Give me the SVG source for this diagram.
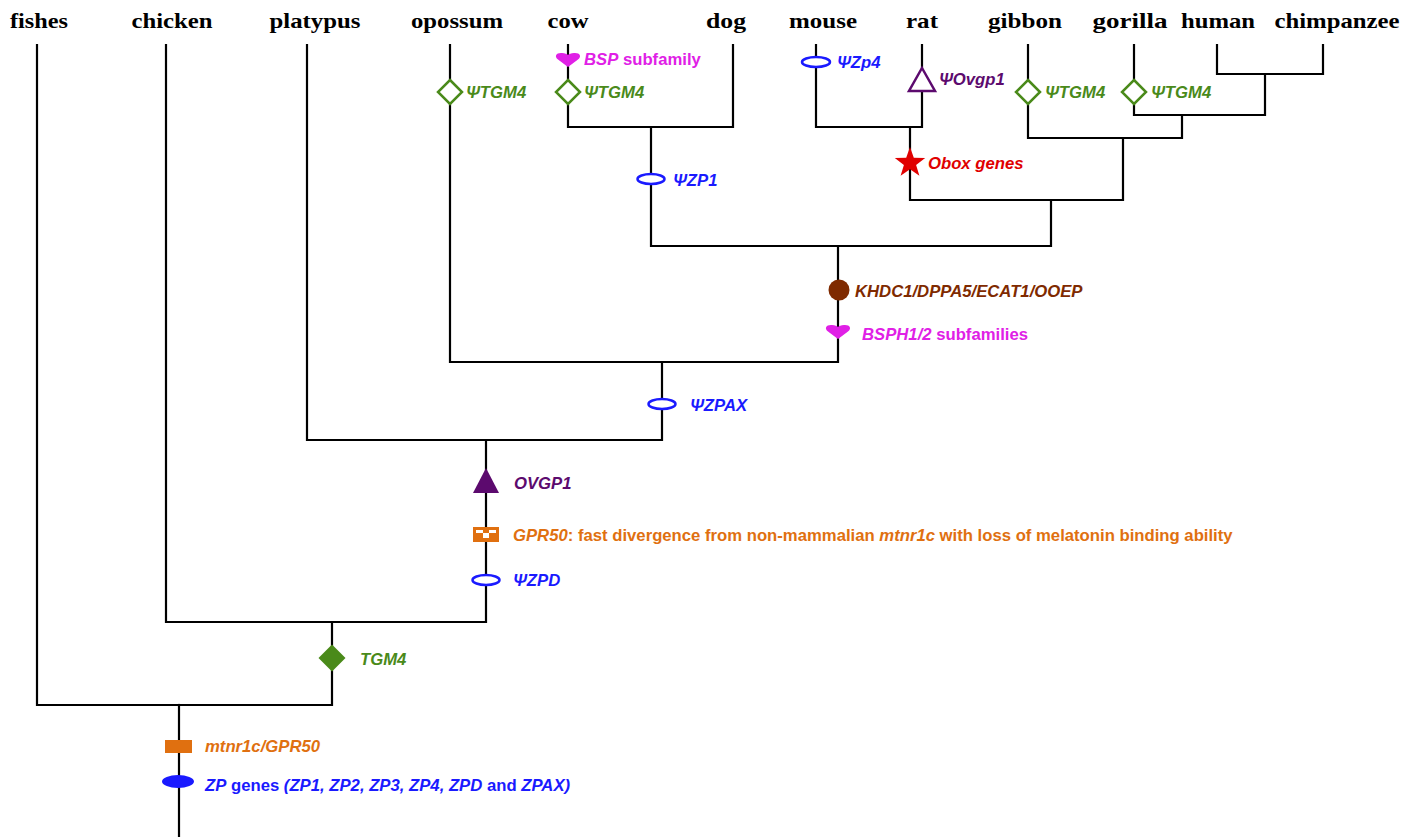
<svg xmlns="http://www.w3.org/2000/svg" width="1418" height="837" viewBox="0 0 1418 837">
<defs>
<style>
.tx{font-family:"Liberation Serif","Times New Roman",serif;font-weight:bold;font-size:21px;fill:#000;text-anchor:middle}
.lb{font-family:"Liberation Sans",Arial,sans-serif;font-weight:bold;font-size:16.7px}
.it{font-style:italic}
.br{fill:none;stroke:#000;stroke-width:2.2;stroke-linecap:square}
.blue{fill:#1a1aff}.green{fill:#4a8a1a}.mag{fill:#e020e6}.pur{fill:#5c0a6e}.brown{fill:#7f2a00}.orange{fill:#e07010}.red{fill:#e00000}
.hb{fill:#fff;stroke:#1a1aff;stroke-width:2.5}
.hg{fill:#fff;stroke:#4a8a1a;stroke-width:2.5}
.hp{fill:#fff;stroke:#5c0a6e;stroke-width:2.5}
</style>
<path id="heart" d="M0,14 L-10,6.5 C-14,3.5 -12,-0.5 -6,0 C-3,0.3 -1,1 0,2 C1,1 3,0.3 6,0 C12,-0.5 14,3.5 10,6.5 Z"/>
<path id="dia" d="M0,-12 L12,0 L0,12 L-12,0 Z"/>
</defs>
<rect width="1418" height="837" fill="#fff"/>
<g id="taxa">
<text class="tx" x="39" y="28" textLength="58" lengthAdjust="spacingAndGlyphs">fishes</text>
<text class="tx" x="172" y="28" textLength="81" lengthAdjust="spacingAndGlyphs">chicken</text>
<text class="tx" x="315" y="28" textLength="91" lengthAdjust="spacingAndGlyphs">platypus</text>
<text class="tx" x="457" y="28" textLength="92" lengthAdjust="spacingAndGlyphs">opossum</text>
<text class="tx" x="568" y="28" textLength="41" lengthAdjust="spacingAndGlyphs">cow</text>
<text class="tx" x="726" y="28" textLength="40" lengthAdjust="spacingAndGlyphs">dog</text>
<text class="tx" x="823" y="28" textLength="68" lengthAdjust="spacingAndGlyphs">mouse</text>
<text class="tx" x="922" y="28" textLength="32" lengthAdjust="spacingAndGlyphs">rat</text>
<text class="tx" x="1025" y="28" textLength="74" lengthAdjust="spacingAndGlyphs">gibbon</text>
<text class="tx" x="1130" y="28" textLength="75" lengthAdjust="spacingAndGlyphs">gorilla</text>
<text class="tx" x="1218" y="28" textLength="74" lengthAdjust="spacingAndGlyphs">human</text>
<text class="tx" x="1337" y="28" textLength="125" lengthAdjust="spacingAndGlyphs">chimpanzee</text>
</g>
<g id="connectors">
<path class="br" d="M37,45 V705 H332 V622"/>
<path class="br" d="M179,705 V837"/>
<path class="br" d="M166,45 V622 H486 V440"/>
<path class="br" d="M307,45 V440 H662 V362"/>
<path class="br" d="M450,45 V362 H838 V246"/>
<path class="br" d="M568,45 V127 H733 V45"/>
<path class="br" d="M651,127 V246 H1051 V200"/>
<path class="br" d="M816,45 V127 H922 V45"/>
<path class="br" d="M910,127 V200 H1123 V138"/>
<path class="br" d="M1028,45 V138 H1182 V115"/>
<path class="br" d="M1134,45 V115 H1265 V74"/>
<path class="br" d="M1217,45 V74 H1323 V45"/>
</g>
<g id="m-bsp"><use href="#heart" x="568" y="53" class="mag"/><text class="lb mag" x="584" y="65"><tspan class="it">BSP</tspan> subfamily</text></g>
<g id="m-tgm4-opossum"><use href="#dia" x="450" y="92" class="hg"/><text class="lb it green" x="466" y="98">ΨTGM4</text></g>
<g id="m-tgm4-cow"><use href="#dia" x="568" y="92" class="hg"/><text class="lb it green" x="584" y="98">ΨTGM4</text></g>
<g id="m-zp1"><ellipse cx="651" cy="179" rx="13.5" ry="5" class="hb"/><text class="lb it blue" x="673" y="186">ΨZP1</text></g>
<g id="m-zp4"><ellipse cx="816" cy="62" rx="14" ry="5" class="hb"/><text class="lb it blue" x="837" y="68">ΨZp4</text></g>
<g id="m-ovgp1-rat"><path d="M922,68 L935,91 L909,91 Z" class="hp"/><text class="lb it pur" x="939" y="85">ΨOvgp1</text></g>
<g id="m-tgm4-gibbon"><use href="#dia" x="1028" y="92" class="hg"/><text class="lb it green" x="1045" y="98">ΨTGM4</text></g>
<g id="m-tgm4-gorilla"><use href="#dia" x="1134" y="92" class="hg"/><text class="lb it green" x="1151" y="98">ΨTGM4</text></g>
<g id="m-obox"><path class="red" d="M910,147 L913.8,157.8 L925.2,158 L916.1,164.9 L919.4,175.8 L910,169.3 L900.6,175.8 L903.9,164.9 L894.8,158 L906.2,157.8 Z"/><text class="lb it red" x="928" y="169">Obox genes</text></g>
<g id="m-khdc1"><circle cx="839" cy="290" r="10.5" class="brown"/><text class="lb it brown" x="855" y="297">KHDC1/DPPA5/ECAT1/OOEP</text></g>
<g id="m-bsph"><use href="#heart" x="838" y="325" class="mag"/><text class="lb mag" x="862" y="340"><tspan class="it">BSPH1/2</tspan> subfamilies</text></g>
<g id="m-zpax"><ellipse cx="662" cy="404" rx="13.5" ry="5" class="hb"/><text class="lb it blue" x="690" y="411">ΨZPAX</text></g>
<g id="m-ovgp1"><path d="M486,468 L499,493 L473,493 Z" class="pur"/><text class="lb it pur" x="514" y="489">OVGP1</text></g>
<g id="m-gpr50"><rect x="473" y="527" width="26" height="15" class="orange"/><rect x="476" y="530" width="7" height="3" fill="#fff"/><rect x="489" y="530" width="7" height="3" fill="#fff"/><rect x="483" y="533" width="6" height="5" fill="#fff"/><text class="lb orange" x="513" y="541"><tspan class="it">GPR50</tspan>: fast divergence from non-mammalian <tspan class="it">mtnr1c</tspan> with loss of melatonin binding ability</text></g>
<g id="m-zpd"><ellipse cx="486" cy="580" rx="13.5" ry="5" class="hb"/><text class="lb it blue" x="513" y="586">ΨZPD</text></g>
<g id="m-tgm4"><path d="M332,644.5 L345.5,658 L332,671.5 L318.5,658 Z" class="green"/><text class="lb it green" x="360" y="665">TGM4</text></g>
<g id="m-mtnr1c"><rect x="165" y="740" width="27" height="13" class="orange"/><text class="lb it orange" x="205" y="752">mtnr1c/GPR50</text></g>
<g id="m-zp"><ellipse cx="178" cy="781.5" rx="16" ry="6.5" class="blue"/><text class="lb blue" x="205" y="791"><tspan class="it">ZP</tspan> genes <tspan class="it">(ZP1, ZP2, ZP3, ZP4, ZPD</tspan> and <tspan class="it">ZPAX)</tspan></text></g>
</svg>
